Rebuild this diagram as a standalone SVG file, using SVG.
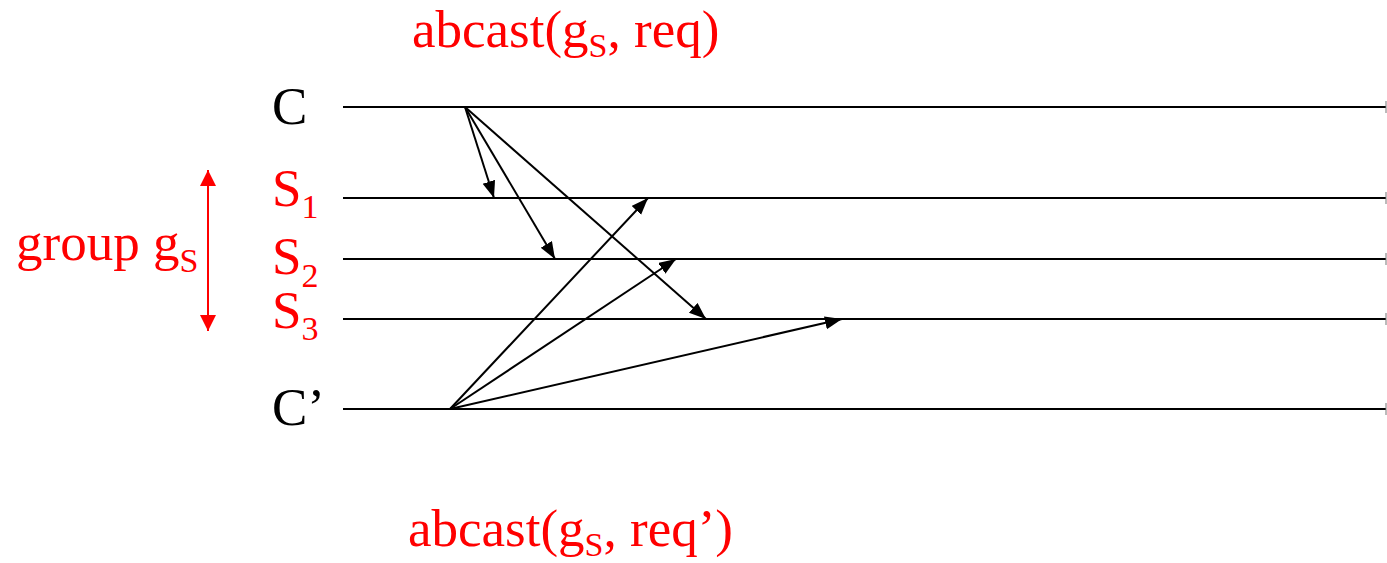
<svg xmlns="http://www.w3.org/2000/svg" width="1387" height="563" viewBox="0 0 1387 563">
<style>
.t{font-family:"Liberation Serif","Times New Roman",serif;font-size:53px;}
.red{fill:#ff0000;}
.blk{fill:#000;}
.tl{stroke:#000;stroke-width:2;fill:none;}
.tick{stroke:#777;stroke-width:1;}
.msg{stroke:#000;stroke-width:2;fill:none;marker-end:url(#ah);}
</style>
<defs>
<marker id="ah" markerUnits="userSpaceOnUse" markerWidth="18" markerHeight="14" refX="17" refY="6.5" orient="auto">
<path d="M0,0 L17,6.5 L0,13 z" fill="#000"/>
</marker>
<marker id="rh" markerUnits="userSpaceOnUse" markerWidth="17" markerHeight="16" refX="16" refY="8" orient="auto-start-reverse">
<path d="M0,0 L16,8 L0,16 z" fill="#ff0000"/>
</marker>
</defs>
<g id="timelines">
<g id="C"><text class="t blk" x="272" y="124">C</text><line class="tl" x1="343" y1="107" x2="1386" y2="107"/><line class="tick" x1="1386" y1="101" x2="1386" y2="113"/></g>
<g id="S1"><text class="t red" x="272" y="206">S<tspan font-size="34" dy="12">1</tspan></text><line class="tl" x1="343" y1="198" x2="1386" y2="198"/><line class="tick" x1="1386" y1="192" x2="1386" y2="204"/></g>
<g id="S2"><text class="t red" x="272" y="274">S<tspan font-size="34" dy="13">2</tspan></text><line class="tl" x1="343" y1="259" x2="1386" y2="259"/><line class="tick" x1="1386" y1="253" x2="1386" y2="265"/></g>
<g id="S3"><text class="t red" x="272" y="328">S<tspan font-size="34" dy="12">3</tspan></text><line class="tl" x1="343" y1="319" x2="1386" y2="319"/><line class="tick" x1="1386" y1="313" x2="1386" y2="325"/></g>
<g id="Cp"><text class="t blk" x="272" y="425">C’</text><line class="tl" x1="343" y1="409" x2="1386" y2="409"/><line class="tick" x1="1386" y1="403" x2="1386" y2="415"/></g>
</g>
<g id="group">
<text class="t red" x="16" y="260">group g<tspan font-size="34" dy="12">S</tspan></text>
<line x1="208" y1="170" x2="208" y2="331" stroke="#ff0000" stroke-width="2" marker-start="url(#rh)" marker-end="url(#rh)"/>
</g>
<g id="labels">
<text class="t red" x="412" y="47">abcast(g<tspan font-size="34" dy="10">S</tspan><tspan dy="-10">, req)</tspan></text>
<text class="t red" x="408" y="546">abcast(g<tspan font-size="34" dy="10">S</tspan><tspan dy="-10">, req’)</tspan></text>
</g>
<g id="connectors">
<line class="msg" x1="465" y1="107" x2="494" y2="198"/>
<line class="msg" x1="465" y1="107" x2="555" y2="259"/>
<line class="msg" x1="465" y1="107" x2="706" y2="319"/>
<line class="msg" x1="450" y1="409" x2="648" y2="198"/>
<line class="msg" x1="450" y1="409" x2="676" y2="259"/>
<line class="msg" x1="450" y1="409" x2="842" y2="319"/>
</g>
</svg>
